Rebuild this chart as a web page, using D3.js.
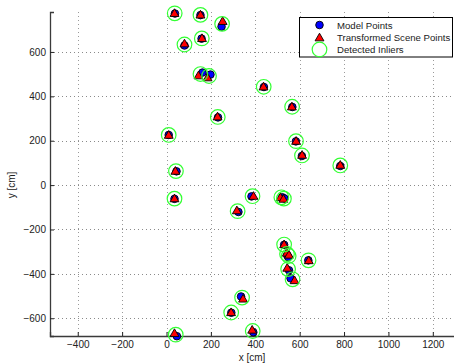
<!DOCTYPE html>
<html>
<head>
<meta charset="utf-8">
<script src="https://cdn.jsdelivr.net/npm/d3@7"></script>
<style>
  html, body { margin: 0; padding: 0; background: #fff; }
  svg { display: block; font-family: "Liberation Sans", Arial, Helvetica, sans-serif; }
</style>
</head>
<body>
<svg id="chart" width="454" height="364"></svg>
<script>
// Model point positions [cm]
const modelX = [38, 153, 248, 81, 158, 162, 198, 439, 567, 232, 10, 583, 610, 45, 36, 383, 324, 522, 531, 783, 530, 544, 549, 639, 552, 559, 336, 292, 47, 391];
const modelY = [773, 766, 714, 629, 660, 507, 498, 442, 352, 305, 226, 197, 131, 62, -62, -51, -121, -55, -60, 86, -269, -316, -325, -339, -384, -420, -502, -575, -681, -663];
// Scene points after the estimated transform [cm]
const sceneX = [36, 153, 253, 81, 160, 144, 185, 437, 565, 230, 10, 584, 611, 40, 36, 392, 317, 513, 527, 783, 530, 542, 552, 641, 544, 577, 345, 291, 36, 386];
const sceneY = [775, 768, 739, 638, 662, 494, 485, 444, 354, 309, 226, 199, 136, 64, -60, -49, -114, -55, -62, 91, -267, -305, -314, -339, -373, -429, -512, -573, -667, -652];

const xTicks = [-400, -200, 0, 200, 400, 600, 800, 1000, 1200];
const yTicks = [-600, -400, -200, 0, 200, 400, 600];
const legendLabels = ["Model Points", "Transformed Scene Points", "Detected Inliers"];

const svg = d3.select("#chart");
const plot = { left: 50, right: 455, top: 12, bottom: 336 };

const x = d3.scaleLinear().domain([-525, 1300]).range([plot.left, plot.right]);
const y = d3.scaleLinear().domain([-680, 780]).range([plot.bottom, plot.top]);

const fmt = d => (d < 0 ? "\u2212" + Math.abs(d) : String(d));

// dotted grid
const grid = svg.append("g");
grid.selectAll("line.vg").data(xTicks).join("line")
  .attr("x1", d => Math.round(x(d)) + 0.5).attr("x2", d => Math.round(x(d)) + 0.5)
  .attr("y1", plot.top).attr("y2", plot.bottom)
  .attr("stroke", "#9a9a9a").attr("stroke-width", 1).attr("stroke-dasharray", "1,3");
grid.selectAll("line.hg").data(yTicks).join("line")
  .attr("y1", d => Math.round(y(d)) + 0.5).attr("y2", d => Math.round(y(d)) + 0.5)
  .attr("x1", plot.left).attr("x2", plot.right)
  .attr("stroke", "#8a8a8a").attr("stroke-width", 1).attr("stroke-dasharray", "1,3");

// axes with inward ticks
const xAxis = d3.axisBottom(x).tickValues(xTicks).tickFormat(fmt).tickSize(-4).tickPadding(5);
const yAxis = d3.axisLeft(y).tickValues(yTicks).tickFormat(fmt).tickSize(-4).tickPadding(4);

const gx = svg.append("g").attr("transform", `translate(0,${plot.bottom})`).call(xAxis);
const gy = svg.append("g").attr("transform", `translate(${plot.left},0)`).call(yAxis);
[gx, gy].forEach(g => {
  g.select(".domain").attr("stroke", "#3a3a3a").attr("stroke-width", 1.3);
  g.selectAll(".tick line").attr("stroke", "#222");
  g.selectAll(".tick text").attr("fill", "#222").style("font-size", "10px")
    .style("font-family", "'Liberation Sans', Arial, sans-serif");
});

// axis titles
svg.append("text").attr("x", 252).attr("y", 361).attr("text-anchor", "middle")
  .attr("fill", "#222").style("font-size", "10px").text("x [cm]");
svg.append("text").attr("transform", "translate(15,185) rotate(-90)").attr("text-anchor", "middle")
  .attr("fill", "#222").style("font-size", "10px").text("y [cm]");

const pts = modelX.map((mx, i) => ({ mx, my: modelY[i], sx: sceneX[i], sy: sceneY[i] }));
const tri = d3.symbol().type(d3.symbolTriangle).size(34);

const marks = svg.append("g");
// model points
marks.selectAll("circle.model").data(pts).join("circle")
  .attr("cx", d => x(d.mx)).attr("cy", d => y(d.my)).attr("r", 3.8)
  .attr("fill", "#0000ff").attr("stroke", "#000").attr("stroke-width", 0.9);
// transformed scene points
marks.selectAll("path.scene").data(pts).join("path")
  .attr("d", tri)
  .attr("transform", d => `translate(${x(d.sx)},${y(d.sy) + 0.8})`)
  .attr("fill", "#ff0000").attr("stroke", "#000").attr("stroke-width", 0.9);
// inliers, ringed around each matched pair
marks.selectAll("circle.inlier").data(pts).join("circle")
  .attr("cx", d => x((d.mx + d.sx) / 2)).attr("cy", d => y((d.my + d.sy) / 2)).attr("r", 7.3)
  .attr("fill", "none").attr("stroke", "#33ff33").attr("stroke-width", 1.2);

// legend
const lg = svg.append("g");
lg.append("rect").attr("x", 299.5).attr("y", 17.5).attr("width", 153).attr("height", 39.5)
  .attr("fill", "#fff").attr("stroke", "#000").attr("stroke-width", 1);
const rows = [25, 37.5, 49.5];
lg.append("circle").attr("cx", 319.5).attr("cy", rows[0]).attr("r", 3.8)
  .attr("fill", "#0000ff").attr("stroke", "#000").attr("stroke-width", 0.9);
lg.append("path").attr("d", tri).attr("transform", `translate(319.5,${rows[1] + 0.8})`)
  .attr("fill", "#ff0000").attr("stroke", "#000").attr("stroke-width", 0.9);
lg.append("circle").attr("cx", 319.5).attr("cy", rows[2]).attr("r", 7.3)
  .attr("fill", "none").attr("stroke", "#33ff33").attr("stroke-width", 1.2);
lg.selectAll("text").data(legendLabels).join("text")
  .attr("x", 337).attr("y", (d, i) => rows[i] + 3.5)
  .attr("fill", "#222").style("font-size", "9.6px").text(d => d);
</script>
</body>
</html>
